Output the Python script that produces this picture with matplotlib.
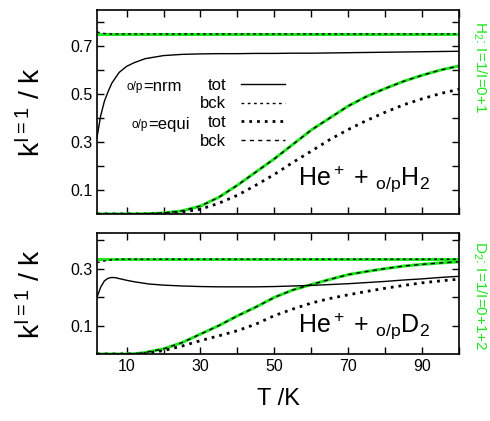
import numpy as np
import matplotlib
matplotlib.use("Agg")
import matplotlib.pyplot as plt

plt.rcParams["font.family"] = ["Liberation Sans", "DejaVu Sans"]
plt.rcParams["mathtext.fontset"] = "custom"
plt.rcParams["mathtext.rm"] = "Liberation Sans"
plt.rcParams["mathtext.it"] = "Liberation Sans:italic"
plt.rcParams["mathtext.default"] = "regular"

GREEN = "#1fe61f"

# ---- He+ + o/p H2 ----
T_h2 = [2, 3, 4, 5, 6, 8, 10, 12, 15, 20, 25, 30, 35, 40, 45, 50,
        55, 60, 65, 70, 75, 80, 85, 90, 95, 100]
h2_stat = [0.75] * len(T_h2)
h2_nrm_tot = [0.32, 0.41, 0.47, 0.51, 0.545, 0.59, 0.615, 0.63, 0.647, 0.66,
              0.665, 0.667, 0.668, 0.668, 0.669, 0.669, 0.67, 0.67, 0.671,
              0.672, 0.673, 0.674, 0.675, 0.676, 0.677, 0.678]
h2_nrm_bck = [0.758, 0.755, 0.752, 0.751, 0.75, 0.75, 0.75, 0.75, 0.75, 0.75,
              0.75, 0.75, 0.75, 0.75, 0.75, 0.75, 0.75, 0.75, 0.75, 0.75,
              0.75, 0.75, 0.75, 0.75, 0.75, 0.75]
h2_equi_bck = [0, 0, 0, 0, 0, 0, 0, 0, 0.001, 0.004, 0.013, 0.033, 0.07,
               0.12, 0.175, 0.23, 0.29, 0.35, 0.40, 0.45, 0.49, 0.523,
               0.553, 0.578, 0.60, 0.617]
h2_equi_tot = [0, 0, 0, 0, 0, 0, 0, 0, 0, 0.002, 0.008, 0.02, 0.045, 0.078,
               0.12, 0.165, 0.215, 0.262, 0.31, 0.352, 0.39, 0.424, 0.455,
               0.48, 0.502, 0.52]

# ---- He+ + o/p D2 ----
T_d2 = [2, 3, 4, 5, 6, 7, 8, 10, 12, 13, 15, 16, 20, 25, 30, 35, 40, 45,
        50, 55, 60, 65, 70, 75, 80, 85, 90, 95, 100]
d2_stat = [1 / 3] * len(T_d2)
d2_nrm_tot = [0.2, 0.235, 0.257, 0.266, 0.269, 0.268, 0.265, 0.259, 0.254,
              0.252, 0.248, 0.246, 0.242, 0.239, 0.237, 0.236, 0.236, 0.236,
              0.237, 0.239, 0.241, 0.244, 0.247, 0.251, 0.255, 0.26, 0.264,
              0.269, 0.273]
d2_nrm_bck = [0.321, 0.324, 0.327, 0.329, 0.331, 0.332, 0.333, 0.333, 0.333,
              0.333, 0.333, 0.333, 0.333, 0.333, 0.333, 0.333, 0.333, 0.333,
              0.333, 0.333, 0.333, 0.333, 0.333, 0.333, 0.333, 0.333, 0.333,
              0.333, 0.333]
d2_equi_bck = [0, 0, 0, 0, 0, 0, 0, 0, 0.001, 0.002, 0.005, 0.008, 0.018,
               0.04, 0.07, 0.1, 0.134, 0.165, 0.199, 0.225, 0.244, 0.262,
               0.279, 0.29, 0.3, 0.309, 0.315, 0.32, 0.324]
d2_equi_tot = [0, 0, 0, 0, 0, 0, 0, 0, 0, 0, 0.002, 0.004, 0.012, 0.028,
               0.047, 0.064, 0.082, 0.105, 0.135, 0.158, 0.179, 0.195, 0.208,
               0.22, 0.231, 0.241, 0.25, 0.257, 0.263]

x_ticks = [10, 20, 30, 40, 50, 60, 70, 80, 90, 100]
x_labels = ["10", "", "30", "", "50", "", "70", "", "90", ""]


def draw_panel(ax, T, stat, nrm_tot, nrm_bck, equi_tot, equi_bck):
    ax.plot(T, stat, color=GREEN, lw=2.2)
    ax.plot(T, equi_bck, color=GREEN, lw=2.2)
    l1, = ax.plot(T, nrm_tot, color="black", lw=1.0)
    l2, = ax.plot(T, nrm_bck, color="black", lw=1.0, ls=(0, (2, 2.5)))
    l3, = ax.plot(T, equi_tot, color="black", lw=2.0, ls=(0, (1, 1.8)))
    l4, = ax.plot(T, equi_bck, color="black", lw=1.0, ls=(0, (3, 3)))
    ax.set_xlim(2, 100)
    ax.set_xticks(x_ticks)
    ax.tick_params(direction="in", length=5, width=1, top=True, right=True,
                   labelsize=11.5)
    for s in ax.spines.values():
        s.set_linewidth(1.2)
    ax.set_ylabel(r"k$^{I=1}$ / k", fontsize=20.5)
    ax.yaxis.set_label_coords(-0.14, 0.5)
    return [l1, l2, l3, l4]


fig = plt.figure(figsize=(4.9, 4.21), dpi=100)
ax1 = fig.add_axes([0.198, 0.4917, 0.739, 0.4846])
ax2 = fig.add_axes([0.198, 0.1591, 0.739, 0.2874])

handles = draw_panel(ax1, T_h2, h2_stat, h2_nrm_tot, h2_nrm_bck,
                     h2_equi_tot, h2_equi_bck)
ax1.set_ylim(0, 0.85)
ax1.set_yticks([0.1, 0.2, 0.3, 0.4, 0.5, 0.6, 0.7, 0.8])
ax1.set_yticklabels(["0.1", "", "0.3", "", "0.5", "", "0.7", ""])
ax1.set_xticklabels([])

draw_panel(ax2, T_d2, d2_stat, d2_nrm_tot, d2_nrm_bck,
           d2_equi_tot, d2_equi_bck)
ax2.set_ylim(0, 0.425)
ax2.set_yticks([0.1, 0.2, 0.3, 0.4])
ax2.set_yticklabels(["0.1", "", "0.3", ""])
ax2.set_xticklabels(x_labels)
ax2.set_xlabel("T /K", fontsize=17, labelpad=10)

# legend: "tot"/"bck" labels left of their line samples
ax1.legend(handles, ["tot", "bck", "tot", "bck"], markerfirst=False,
           frameon=False, fontsize=12, handlelength=2.6, handletextpad=0.9,
           labelspacing=0.22, loc="upper left", borderpad=0,
           bbox_to_anchor=(0.285, 0.668), borderaxespad=0)
for xo, yo, word in [(0.127, 0.627, "=nrm"), (0.141, 0.441, "=equi")]:
    ax1.text(xo, yo, word, transform=ax1.transAxes, fontsize=12,
             ha="left", va="center")
    ax1.text(xo, yo - 0.006, "o/p", transform=ax1.transAxes, fontsize=8.5,
             ha="right", va="center")

ax1.text(0.92, 0.142, r"He$^+$ + $_{o/p}$H$_2$", transform=ax1.transAxes,
         fontsize=18, ha="right", va="baseline")
ax2.text(0.92, 0.18, r"He$^+$ + $_{o/p}$D$_2$", transform=ax2.transAxes,
         fontsize=18, ha="right", va="baseline")

ax1.text(1.058, 0.945, r"H$_2$: I=1/I=0+1", transform=ax1.transAxes,
         rotation=270, color=GREEN, fontsize=11, ha="center", va="top")
ax2.text(1.058, 0.93, r"D$_2$: I=1/I=0+1+2", transform=ax2.transAxes,
         rotation=270, color=GREEN, fontsize=11, ha="center", va="top")

fig.savefig("out.png", dpi=100)
